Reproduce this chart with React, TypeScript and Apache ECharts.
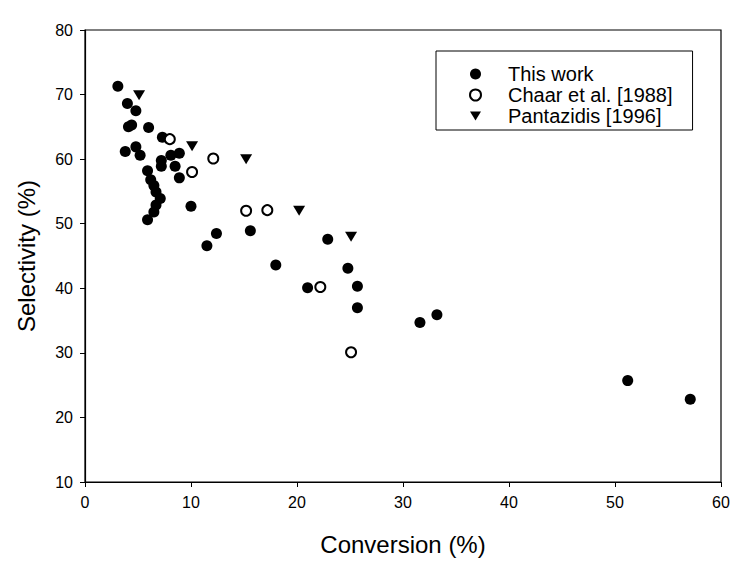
import React, { useEffect, useRef } from "react";
import * as echarts from "echarts";

const thisWorkConversion = [3.1, 4.0, 4.8, 4.1, 4.4, 6.0, 7.3, 3.8, 4.8, 5.2, 7.2, 7.2, 8.1, 8.9, 8.5, 8.9, 5.9, 6.2, 6.5, 6.7, 7.1, 6.7, 6.5, 5.9, 10.0, 11.5, 12.4, 15.6, 18.0, 21.0, 22.9, 24.8, 25.7, 25.7, 31.6, 33.2, 51.2, 57.1];
const thisWorkSelectivity = [71.3, 68.6, 67.5, 65.0, 65.3, 64.9, 63.4, 61.2, 61.9, 60.6, 59.8, 58.9, 60.6, 60.9, 58.9, 57.1, 58.2, 56.8, 55.9, 54.9, 53.9, 52.9, 51.8, 50.6, 52.7, 46.6, 48.5, 48.9, 43.6, 40.1, 47.6, 43.1, 40.3, 37.0, 34.7, 35.9, 25.7, 22.8];

const chaarConversion = [8.0, 10.1, 12.1, 15.2, 17.2, 22.2, 25.1];
const chaarSelectivity = [63.1, 58.0, 60.1, 52.0, 52.1, 40.2, 30.1];

const pantazidisConversion = [5.1, 10.1, 15.2, 20.2, 25.1];
const pantazidisSelectivity = [69.9, 62.0, 60.0, 52.0, 48.0];

const xTicks = [0, 10, 20, 30, 40, 50, 60];
const yTicks = [10, 20, 30, 40, 50, 60, 70, 80];

const seriesNames = ["This work", "Chaar et al. [1988]", "Pantazidis [1996]"];

const FONT = "'Liberation Sans', Arial, Helvetica, sans-serif";

function pairs(xs: number[], ys: number[]) {
  return xs.map((x, i) => [x, ys[i]]);
}

export default function App() {
  const ref = useRef<HTMLDivElement>(null);
  useEffect(() => {
    document.body.style.margin = "0";
    if (!ref.current) return;
    const chart = echarts.init(ref.current, null, { renderer: "svg" });
    chart.setOption({
      animation: false,
      backgroundColor: "#ffffff",
      textStyle: { fontFamily: FONT, color: "#000" },
      grid: {
        left: 85,
        right: 13,
        top: 30,
        bottom: 80,
        show: true,
        borderColor: "#000",
        borderWidth: 1.2,
      },
      legend: {
        left: 436,
        top: 51,
        orient: "vertical",
        backgroundColor: "#fff",
        borderColor: "#000",
        borderWidth: 1,
        borderRadius: 0,
        padding: [13, 20, 4, 33],
        itemGap: 1,
        itemWidth: 11,
        itemHeight: 11,
        selectedMode: false,
        textStyle: {
          fontFamily: FONT,
          fontSize: 20,
          color: "#000",
          lineHeight: 18,
          padding: [0, 0, 0, 22],
        },
        data: [
          { name: seriesNames[0], icon: "circle" },
          { name: seriesNames[1], icon: "emptyCircle" },
          { name: seriesNames[2], icon: "path://M0,0L12,0L6,10Z" },
        ],
      },
      xAxis: {
        type: "value",
        min: xTicks[0],
        max: xTicks[xTicks.length - 1],
        interval: 10,
        name: "Conversion (%)",
        nameLocation: "middle",
        nameGap: 50,
        nameTextStyle: { fontFamily: FONT, fontSize: 24, color: "#000" },
        axisLine: { show: true, lineStyle: { color: "#000", width: 1.2 } },
        axisTick: { show: true, length: 5, lineStyle: { color: "#000" } },
        axisLabel: { fontFamily: FONT, fontSize: 16, color: "#000", margin: 12 },
        splitLine: { show: false },
      },
      yAxis: {
        type: "value",
        min: yTicks[0],
        max: yTicks[yTicks.length - 1],
        interval: 10,
        name: "Selectivity (%)",
        nameLocation: "middle",
        nameGap: 47,
        nameRotate: 90,
        nameTextStyle: { fontFamily: FONT, fontSize: 24, color: "#000" },
        axisLine: { show: true, lineStyle: { color: "#000", width: 1.2 } },
        axisTick: { show: true, length: 5, lineStyle: { color: "#000" } },
        axisLabel: { fontFamily: FONT, fontSize: 16, color: "#000", margin: 12 },
        splitLine: { show: false },
      },
      series: [
        {
          name: seriesNames[0],
          type: "scatter",
          symbol: "circle",
          symbolSize: 11,
          itemStyle: { color: "#000", opacity: 1 },
          data: pairs(thisWorkConversion, thisWorkSelectivity),
        },
        {
          name: seriesNames[1],
          type: "scatter",
          symbol: "emptyCircle",
          symbolSize: 10,
          itemStyle: { color: "#000", borderColor: "#000", borderWidth: 1.5, opacity: 1 },
          data: pairs(chaarConversion, chaarSelectivity),
        },
        {
          name: seriesNames[2],
          type: "scatter",
          symbol: "path://M0,0L12,0L6,10Z",
          symbolSize: [12, 10],
          itemStyle: { color: "#000", opacity: 1 },
          data: pairs(pantazidisConversion, pantazidisSelectivity),
        },
      ],
    });
    return () => chart.dispose();
  }, []);
  return <div ref={ref} style={{ width: 734, height: 562 }} />;
}
